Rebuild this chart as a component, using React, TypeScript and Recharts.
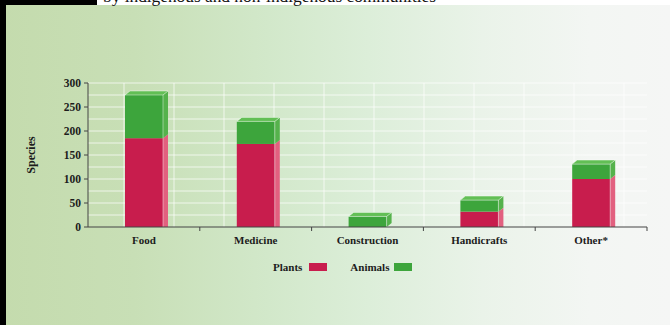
import React from 'react';
import { BarChart, Bar, XAxis, YAxis, CartesianGrid, Legend } from 'recharts';

// Species used, split by plants and animals
const categories = ['Food', 'Medicine', 'Construction', 'Handicrafts', 'Other*'];
const plantSpecies = [185, 173, 0, 32, 100];
const animalSpecies = [90, 47, 22, 24, 31];
const yTicks = [0, 50, 100, 150, 200, 250, 300];
const seriesOrder = ['Plants', 'Animals'];

const data = categories.map((name, i) => ({
  name,
  plants: plantSpecies[i],
  animals: animalSpecies[i],
}));

const RED = '#c81d4d';
const RED_SIDE = '#e2607f';
const GREEN = '#3da53c';
const GREEN_SIDE = '#55b24c';
const GREEN_TOP = '#62bf55';
const FONT = '"Liberation Serif", "Times New Roman", serif';
const INK = '#1c1c1c';

const DX = 5;
const DY = 4;

type BlockProps = {
  x?: number;
  y?: number;
  width?: number;
  height?: number;
  fill?: string;
  side: string;
  top?: string;
  floor?: boolean;
};

// Front face, right side face and (for the upper segment) a top face
function Block3D({ x = 0, y = 0, width = 0, height = 0, fill, side, top, floor }: BlockProps) {
  if (!height || height <= 0) return null;
  const r = x + width;
  const b = y + height;
  const sidePts = floor
    ? `${r},${y} ${r + DX},${y - DY} ${r + DX},${b} ${r},${b}`
    : `${r},${y} ${r + DX},${y - DY} ${r + DX},${b - DY} ${r},${b}`;
  return (
    <g>
      <polygon points={sidePts} fill={side} />
      <rect x={x} y={y} width={width} height={height} fill={fill} />
      {top && (
        <polygon
          points={`${x},${y} ${x + DX},${y - DY} ${r + DX},${y - DY} ${r},${y}`}
          fill={top}
          stroke="#ffffff"
          strokeOpacity={0.6}
          strokeWidth={0.7}
        />
      )}
      <line x1={r} y1={y} x2={r} y2={b} stroke="#ffffff" strokeOpacity={0.55} strokeWidth={0.8} />
    </g>
  );
}

function CategoryTick(props: any) {
  const { x, y, payload } = props;
  const half =
    payload && typeof payload.offset === 'number' && payload.offset > 0
      ? payload.offset
      : (props.width || 559) / (props.visibleTicksCount || 5) / 2;
  return (
    <g>
      <line x1={x + half} y1={y} x2={x + half} y2={y + 4} stroke="#444" strokeWidth={1} />
      <text
        x={x}
        y={y + 13}
        textAnchor="middle"
        dominantBaseline="central"
        fontFamily={FONT}
        fontWeight="bold"
        fontSize={11}
        fill={INK}
      >
        {payload.value}
      </text>
    </g>
  );
}

function LegendRow(props: any) {
  const items = [...(props.payload || [])].sort(
    (a: any, b: any) => seriesOrder.indexOf(a.value) - seriesOrder.indexOf(b.value)
  );
  return (
    <div style={{ display: 'flex', alignItems: 'center', fontFamily: FONT, fontWeight: 'bold', fontSize: 11, color: INK }}>
      {items.map((it: any, i: number) => (
        <div key={i} style={{ display: 'flex', alignItems: 'center', marginRight: i === 0 ? 23 : 0 }}>
          <span>{it.value}</span>
          <span style={{ display: 'inline-block', width: 18, height: 8, marginLeft: i === 0 ? 7 : 5, background: it.color }} />
        </div>
      ))}
    </div>
  );
}

export default function App() {
  return (
    <div style={{ position: 'absolute', left: 0, top: 0, width: 670, height: 325, overflow: 'hidden', background: '#ffffff' }}>
      <div
        style={{
          position: 'absolute',
          left: 0,
          top: 5,
          width: 670,
          height: 320,
          background:
            'linear-gradient(to right, #c4dbad 0%, #c8dfb6 20%, #d2e8ca 40%, #dceed9 55%, #eaf3e9 72%, #f3f6f3 88%, #f5f6f5 100%)',
        }}
      />
      <div style={{ position: 'absolute', left: 0, top: 0, width: 6, height: 325, background: '#000' }} />
      <div style={{ position: 'absolute', left: 0, top: 0, width: 97, height: 5, background: '#000' }} />
      <svg style={{ position: 'absolute', left: 0, top: 0 }} width={670} height={6}>
        <text x={103} y={2} textLength={333} lengthAdjust="spacingAndGlyphs" fontFamily={FONT} fontSize={16} fill="#111">
          by indigenous and non-indigenous communities
        </text>
      </svg>
      <div style={{ position: 'absolute', left: 0, top: 0 }}>
        <BarChart width={670} height={325} data={data} margin={{ top: 83, right: 23, left: 48, bottom: 68 }} barSize={38}>
          <CartesianGrid
            stroke="#ffffff"
            strokeOpacity={0.7}
            verticalCoordinatesGenerator={({ offset }: any) => {
              const xs: number[] = [];
              for (let v = offset.left + 36; v < offset.left + offset.width; v += 50) xs.push(v);
              return xs;
            }}
            horizontalCoordinatesGenerator={({ offset }: any) => {
              const ys: number[] = [];
              for (let v = offset.top; v < offset.top + offset.height - 4; v += 12) ys.push(v);
              return ys;
            }}
          />
          <XAxis
            dataKey="name"
            height={30}
            tickSize={0}
            tickMargin={0}
            tickLine={false}
            axisLine={{ stroke: '#444', strokeWidth: 1 }}
            tick={<CategoryTick />}
            interval={0}
          />
          <YAxis
            width={40}
            domain={[0, 300]}
            ticks={yTicks}
            tickSize={4}
            tickMargin={3}
            axisLine={{ stroke: '#444', strokeWidth: 1 }}
            tickLine={{ stroke: '#444' }}
            tick={{ fontFamily: FONT, fontWeight: 'bold', fontSize: 11.5, fill: INK }}
            label={{
              value: 'Species',
              angle: -90,
              position: 'left',
              offset: 17,
              style: { fontFamily: FONT, fontWeight: 'bold', fontSize: 12, fill: INK, textAnchor: 'middle' },
            }}
          />
          <Legend
            verticalAlign="middle"
            align="center"
            wrapperStyle={{ top: 261, left: 273, width: 'auto' }}
            content={<LegendRow />}
          />
          <Bar
            dataKey="plants"
            name="Plants"
            stackId="s"
            fill={RED}
            isAnimationActive={false}
            shape={(p: any) => <Block3D {...p} side={RED_SIDE} floor />}
          />
          <Bar
            dataKey="animals"
            name="Animals"
            stackId="s"
            fill={GREEN}
            isAnimationActive={false}
            shape={(p: any) => <Block3D {...p} side={GREEN_SIDE} top={GREEN_TOP} />}
          />
        </BarChart>
      </div>
    </div>
  );
}
